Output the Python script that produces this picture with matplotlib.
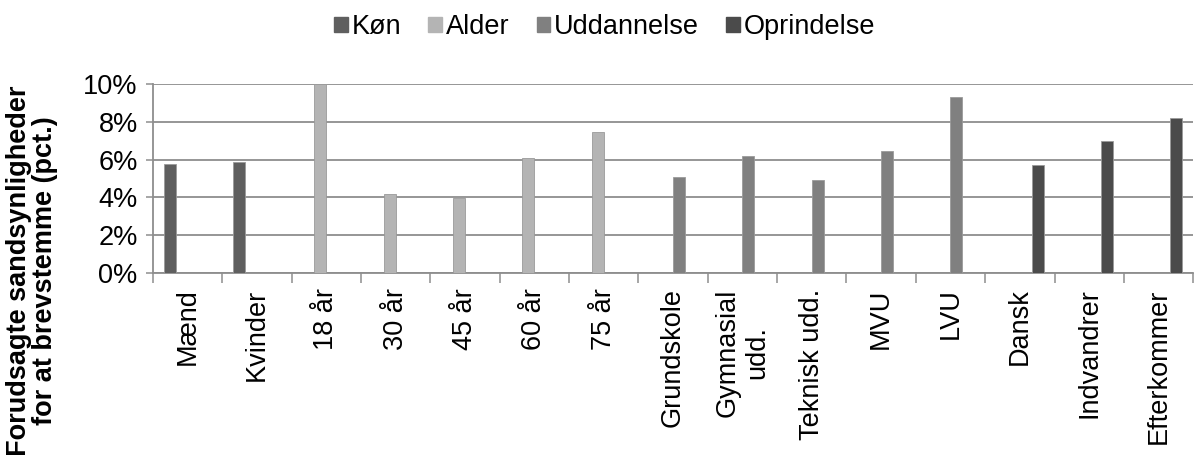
import matplotlib.pyplot as plt
import matplotlib.patches as mpatches
from matplotlib.ticker import FuncFormatter, FixedLocator
import numpy as np

plt.rcParams['font.family'] = ['Liberation Sans', 'DejaVu Sans']

categories = ['Mænd', 'Kvinder', '18 år', '30 år', '45 år', '60 år', '75 år',
              'Grundskole', 'Gymnasial\nudd.', 'Teknisk udd.', 'MVU', 'LVU',
              'Dansk', 'Indvandrer', 'Efterkommer']
series_names = ['Køn', 'Alder', 'Uddannelse', 'Oprindelse']
series_colors = ['#5f5f5f', '#b4b4b4', '#808080', '#4b4b4b']

nan = np.nan
kon = [5.75, 5.87, nan, nan, nan, nan, nan, nan, nan, nan, nan, nan, nan, nan, nan]
alder = [nan, nan, 10.0, 4.2, 3.98, 6.1, 7.44, nan, nan, nan, nan, nan, nan, nan, nan]
uddannelse = [nan, nan, nan, nan, nan, nan, nan, 5.1, 6.18, 4.93, 6.48, 9.33, nan, nan, nan]
oprindelse = [nan, nan, nan, nan, nan, nan, nan, nan, nan, nan, nan, nan, 5.74, 7.0, 8.2]

grid_col = '#8e8e8e'
fs = 19.5

fig = plt.figure(figsize=(11.95, 4.55), dpi=100)
ax = fig.add_axes([0.128, 0.40, 0.8705, 0.4154])

x = np.arange(len(categories))
bar_w = 0.172
margin = (1 - 4 * bar_w) / 2
for k, (vals, name, col) in enumerate(zip([kon, alder, uddannelse, oprindelse],
                                          series_names, series_colors)):
    ax.bar(x + margin + k * bar_w, vals, width=bar_w, align='edge',
           color=col, edgecolor='#9a9a9a', linewidth=0.6, label=name, zorder=3)

ax.set_xlim(0, len(categories))
ax.set_ylim(0, 10)
ax.set_yticks(np.arange(0, 11, 2))
ax.yaxis.set_major_formatter(FuncFormatter(lambda v, p: f'{v:.0f}%'))
ax.yaxis.grid(True, color=grid_col, linewidth=1.3, zorder=0)
ax.tick_params(axis='y', labelsize=fs, length=5, width=1.1, color=grid_col, pad=6)

# category boundaries as major ticks, names as minor ticks
ax.xaxis.set_major_locator(FixedLocator(np.arange(0, len(categories) + 1)))
ax.xaxis.set_major_formatter(FuncFormatter(lambda v, p: ''))
ax.xaxis.set_minor_locator(FixedLocator(x + 0.5))
ax.set_xticklabels(categories, minor=True, rotation=90, fontsize=fs)
ax.tick_params(axis='x', which='major', length=7, width=1.1, color=grid_col)
ax.tick_params(axis='x', which='minor', length=0, pad=11)

for s in ['top', 'right']:
    ax.spines[s].set_visible(False)
for s in ['left', 'bottom']:
    ax.spines[s].set_color(grid_col)
    ax.spines[s].set_linewidth(1.3)

handles = [mpatches.Patch(color=c, label=n) for c, n in zip(series_colors, series_names)]
fig.legend(handles=handles, loc='center', bbox_to_anchor=(0.506, 0.94), ncol=4,
           frameon=False, fontsize=fs, handlelength=0.5, handleheight=0.5,
           handletextpad=0.15, columnspacing=1.0)

fig.text(0.027, 0.405, 'Forudsagte sandsynligheder\nfor at brevstemme (pct.)',
         rotation=90, ha='center', va='center', fontsize=fs, fontweight='bold',
         multialignment='center', linespacing=1.0)

fig.savefig('out.png', dpi=100, facecolor='white')
